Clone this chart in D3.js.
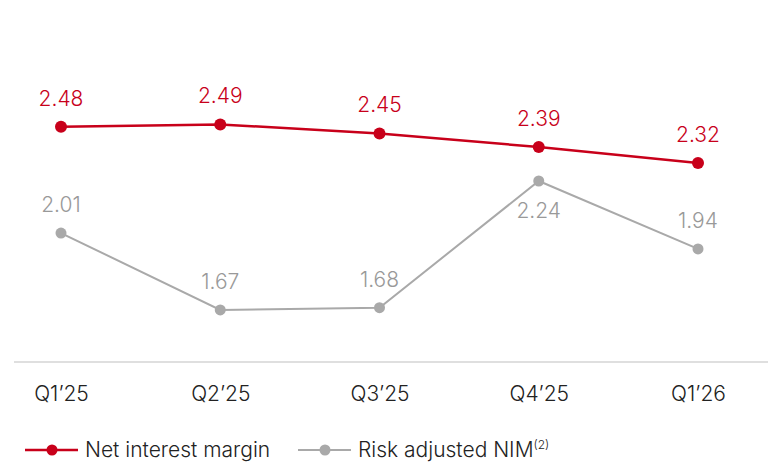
<!DOCTYPE html>
<html><head><meta charset="utf-8">
<script src="https://cdn.jsdelivr.net/npm/d3@7"></script>
<style>body{margin:0;background:#fff}svg{display:block}text{font-family:Inter,"Liberation Sans",Arial,sans-serif;font-weight:300}</style>
</head><body>
<svg id="c" width="768" height="462"></svg>
<script>
const categories = ["Q1’25","Q2’25","Q3’25","Q4’25","Q1’26"];
const nim = [2.48,2.49,2.45,2.39,2.32];
const riskNim = [2.01,1.67,1.68,2.24,1.94];
const riskLabelBelow = [false,false,false,true,false];
const seriesNames = ["Net interest margin","Risk adjusted NIM"];

const svg = d3.select("#c");
const red = "#c8001a", grey = "#a9a9a9", greyText = "#999999";
const x = d3.scalePoint().domain(categories).range([61,698]);
const y = d3.scaleLinear().domain([1.44,3.04]).range([362,0]);

svg.append("line").attr("x1",14).attr("x2",768).attr("y1",362).attr("y2",362)
  .attr("stroke","#d4d4d4").attr("stroke-width",1.5);

const xAxis = svg.append("g").attr("transform","translate(0,362)")
  .call(d3.axisBottom(x).tickSize(0).tickPadding(24));
xAxis.select(".domain").remove();
xAxis.selectAll("text").attr("font-size",21).attr("fill","#222")
  .attr("font-family","Inter,'Liberation Sans',Arial,sans-serif").attr("font-weight",300);

const line = d3.line().x((d,i)=>x(categories[i])).y(d=>y(d));

function drawSeries(vals,color,textColor,w,r,below){
  svg.append("path").datum(vals).attr("d",line).attr("fill","none")
    .attr("stroke",color).attr("stroke-width",w);
  svg.selectAll(null).data(vals).enter().append("circle")
    .attr("cx",(d,i)=>x(categories[i])).attr("cy",d=>y(d)).attr("r",r).attr("fill",color);
  svg.selectAll(null).data(vals).enter().append("text")
    .attr("x",(d,i)=>x(categories[i])).attr("y",(d,i)=>below[i]? y(d)+37 : y(d)-21)
    .attr("text-anchor","middle").attr("font-size",21).attr("fill",textColor)
    .text(d=>d.toFixed(2));
}
drawSeries(riskNim,grey,greyText,2,5.5,riskLabelBelow);
drawSeries(nim,red,red,2.5,6,[false,false,false,false,false]);

// legend
const lg = svg.append("g");
const items = [{name:seriesNames[0],c:red,x0:25,w:2.5,sup:null},{name:seriesNames[1],c:grey,x0:298,w:2,sup:"(2)"}];
items.forEach(it=>{
  lg.append("line").attr("x1",it.x0).attr("x2",it.x0+53).attr("y1",450).attr("y2",450)
    .attr("stroke",it.c).attr("stroke-width",it.w);
  lg.append("circle").attr("cx",it.x0+27).attr("cy",450).attr("r",5.5).attr("fill",it.c);
  const t = lg.append("text").attr("x",it.x0+60).attr("y",457).attr("font-size",21).attr("fill","#222").text(it.name);
  if(it.sup) t.append("tspan").attr("font-size",12).attr("dy",-8).text(it.sup);
});
</script>
</body></html>
